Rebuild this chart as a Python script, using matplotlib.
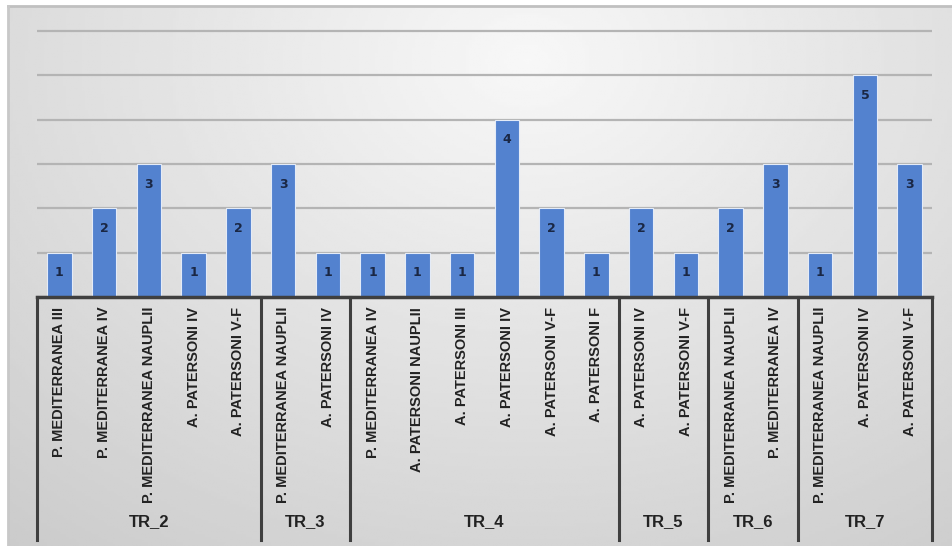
import numpy as np
import matplotlib.pyplot as plt
from matplotlib import transforms

groups = ['TR_2', 'TR_3', 'TR_4', 'TR_5', 'TR_6', 'TR_7']
group_sizes = [5, 2, 6, 2, 2, 3]
labels = [
    'P. MEDITERRANEA III', 'P. MEDITERRANEA IV', 'P. MEDITERRANEA NAUPLII',
    'A. PATERSONI IV', 'A. PATERSONI V-F',
    'P. MEDITERRANEA NAUPLII', 'A. PATERSONI IV',
    'P. MEDITERRANEA IV', 'A. PATERSONI NAUPLII', 'A. PATERSONI III',
    'A. PATERSONI IV', 'A. PATERSONI V-F', 'A. PATERSONI F',
    'A. PATERSONI IV', 'A. PATERSONI V-F',
    'P. MEDITERRANEA NAUPLII', 'P. MEDITERRANEA IV',
    'P. MEDITERRANEA NAUPLII', 'A. PATERSONI IV', 'A. PATERSONI V-F',
]
values = [1, 2, 3, 1, 2, 3, 1, 1, 1, 1, 4, 2, 1, 2, 1, 2, 3, 1, 5, 3]

font = ['Liberation Sans', 'DejaVu Sans']
dark = '#3f3f3f'

fig = plt.figure(figsize=(9.52, 5.46), dpi=100)

# background gradient panel
bg = fig.add_axes([8 / 952, 0, 1 - 8 / 952, 1 - 6 / 546], zorder=0)
yy, xx = np.mgrid[0:1:200j, 0:1:300j]
r = np.sqrt(((xx - 0.55) / 0.75) ** 2 + ((yy - 0.1) / 1.0) ** 2)
bg.imshow(0.97 - 0.15 * r, cmap='gray', vmin=0, vmax=1, aspect='auto', extent=[0, 1, 1, 0])
bg.set_axis_off()
fig.add_artist(plt.Line2D([8 / 952, 1], [1 - 6 / 546] * 2, color='#c0c0c0', lw=2))
fig.add_artist(plt.Line2D([8 / 952] * 2, [0, 1 - 6 / 546], color='#c8c8c8', lw=2))

ax = fig.add_axes([37 / 952, 249 / 546, 895 / 952, 279.3 / 546], zorder=1)
ax.patch.set_alpha(0)
x = np.arange(len(values))
bars = ax.bar(x, values, width=0.55, color='#5382cf', edgecolor='#e4ebf7', linewidth=0.8, zorder=3)
for xi, v in zip(x, values):
    ax.annotate(str(v), (xi, v), xytext=(0, -20), textcoords='offset pixels',
                ha='center', va='center', fontsize=9, fontweight='bold', color='#1a2744', zorder=4)

ax.set_xlim(-0.5, len(values) - 0.5)
ax.set_ylim(0, 6.3)
ax.set_yticks(range(0, 7))
ax.yaxis.grid(True, color='#b4b4b4', lw=1.6)
ax.set_axisbelow(True)
ax.tick_params(left=False, labelleft=False, bottom=False, labelbottom=False)
for s in ax.spines.values():
    s.set_visible(False)
ax.axhline(0, color=dark, lw=2.5, zorder=5, clip_on=False)

trans = transforms.blended_transform_factory(ax.transData, ax.transAxes)
for xi, lab in zip(x, labels):
    ax.text(xi, -0.035, lab, transform=trans, rotation=90, ha='center', va='top',
            fontsize=10.5, fontweight='bold', family=font, color='#222222')

edges = np.concatenate([[0], np.cumsum(group_sizes)]) - 0.5
for e in edges:
    ax.plot([e, e], [0, -0.87], transform=trans, color=dark, lw=2.2, clip_on=False)
for g, a, b in zip(groups, edges[:-1], edges[1:]):
    ax.text((a + b) / 2, -0.805, g, transform=trans, ha='center', va='center',
            fontsize=12, fontweight='bold', family=font, color='#222222')

fig.savefig('out.png', dpi=100)
